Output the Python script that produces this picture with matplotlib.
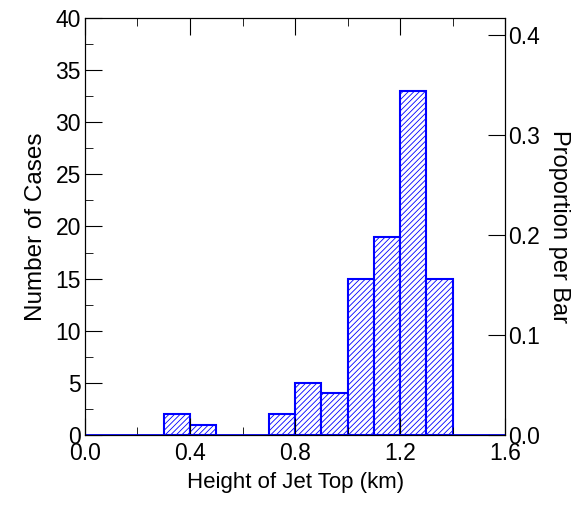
import numpy as np
import matplotlib.pyplot as plt
from matplotlib.ticker import MultipleLocator

plt.rcParams['font.family'] = ['Liberation Sans', 'DejaVu Sans']
plt.rcParams['hatch.color'] = 'blue'
plt.rcParams['hatch.linewidth'] = 0.6

# histogram bins (km) and counts
bin_left = [0.3, 0.4, 0.7, 0.8, 0.9, 1.0, 1.1, 1.2, 1.3]
counts = [2, 1, 2, 5, 4, 15, 19, 33, 15]
bin_width = 0.1
total = sum(counts)

fig = plt.figure(figsize=(5.84, 5.05), dpi=100)
ax = fig.add_axes([0.1455, 0.1386, 0.7195, 0.8258])

ax.bar(bin_left, counts, width=bin_width, align='edge', facecolor='white',
       edgecolor='blue', linewidth=1.5, hatch='//////')
ax.axhline(0, color='blue', linewidth=2)

ax.set_xlim(0, 1.6)
ax.set_ylim(0, 40)
ax.xaxis.set_major_locator(MultipleLocator(0.4))
ax.xaxis.set_minor_locator(MultipleLocator(0.2))
ax.yaxis.set_major_locator(MultipleLocator(5))
ax.yaxis.set_minor_locator(MultipleLocator(2.5))
ax.xaxis.set_major_formatter(plt.FuncFormatter(lambda v, p: f'{v:.1f}'))
ax.tick_params(which='both', direction='in', top=True, right=False, labelsize=16.5)
ax.tick_params(axis='x', pad=5)
ax.tick_params(axis='y', pad=3)
ax.tick_params(which='major', length=12)
ax.tick_params(which='minor', length=6)
ax.set_xlabel('Height of Jet Top (km)', fontsize=16, labelpad=5)
ax.set_ylabel('Number of Cases', fontsize=17.5, labelpad=6)

ax2 = ax.twinx()
ax2.set_ylim(0, 40 / total)
ax2.yaxis.set_major_locator(MultipleLocator(0.1))
ax2.yaxis.set_major_formatter(plt.FuncFormatter(lambda v, p: f'{v:.1f}'))
ax2.tick_params(direction='in', length=12, labelsize=16.5, pad=2)
ax2.set_ylabel('Proportion per Bar', fontsize=17, rotation=270, labelpad=22)

fig.savefig('out.png', dpi=100)
